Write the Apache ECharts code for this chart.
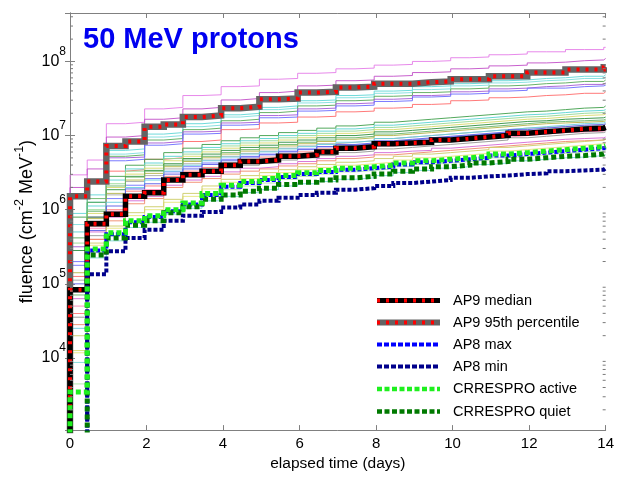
<!DOCTYPE html>
<html>
<head>
<meta charset="utf-8">
<script src="https://cdn.jsdelivr.net/npm/echarts@6.0.0/dist/echarts.min.js"></script>
<style>
html,body{margin:0;padding:0;background:#fff;}
#chart{width:617px;height:477px;}
</style>
</head>
<body>
<div id="chart"></div>
<script>
// ---- step times (days) at which each fluence value starts ----
const stepTimes = [0, 0.45, 0.95, 1.45, 1.95, 2.45, 2.95, 3.45, 3.95, 4.45, 4.95, 5.45, 5.95, 6.45, 6.95,
  7.45, 7.95, 8.45, 8.95, 9.45, 9.95, 10.45, 10.95, 11.45, 11.95, 12.45, 12.95, 13.45, 13.95];
const endTime = 14;

// ---- main curves, log10(fluence) ----
const ap9MedianLog = [4.92, 5.81, 5.94, 6.18, 6.23, 6.40, 6.47, 6.52, 6.60, 6.65, 6.67, 6.72, 6.74, 6.78, 6.83,
  6.85, 6.89, 6.90, 6.91, 6.94, 6.96, 6.98, 7.00, 7.03, 7.05, 7.07, 7.09, 7.10, 7.11];
const ap9P95Log = [6.18, 6.38, 6.86, 6.92, 7.12, 7.15, 7.25, 7.27, 7.37, 7.39, 7.49, 7.50, 7.58, 7.59, 7.65,
  7.66, 7.70, 7.70, 7.72, 7.73, 7.76, 7.76, 7.80, 7.80, 7.85, 7.85, 7.89, 7.89, 7.92];
const ap8MaxLog = [2.00, 5.45, 5.67, 5.83, 5.90, 5.98, 6.07, 6.20, 6.31, 6.36, 6.40, 6.44, 6.48, 6.51, 6.54,
  6.56, 6.58, 6.61, 6.64, 6.66, 6.68, 6.70, 6.73, 6.75, 6.77, 6.79, 6.81, 6.83, 6.84];
const ap8MinLog = [2.00, 5.13, 5.44, 5.62, 5.73, 5.85, 5.92, 5.97, 6.03, 6.07, 6.12, 6.16, 6.20, 6.23, 6.27,
  6.29, 6.32, 6.36, 6.38, 6.40, 6.43, 6.45, 6.46, 6.48, 6.49, 6.52, 6.53, 6.54, 6.56];
const crresActiveLog = [3.54, 5.47, 5.69, 5.85, 5.92, 6.00, 6.09, 6.22, 6.33, 6.38, 6.42, 6.46, 6.50, 6.53, 6.56,
  6.58, 6.60, 6.63, 6.66, 6.68, 6.70, 6.72, 6.75, 6.77, 6.79, 6.81, 6.83, 6.85, 6.86];
const crresQuietLog = [2.00, 5.39, 5.62, 5.79, 5.85, 5.96, 6.04, 6.14, 6.20, 6.25, 6.29, 6.34, 6.37, 6.40, 6.43,
  6.45, 6.48, 6.52, 6.55, 6.58, 6.60, 6.63, 6.65, 6.68, 6.70, 6.72, 6.73, 6.75, 6.76];

// ---- AP9 Monte-Carlo scenario curves (thin lines), log10(fluence) ----
const scenarioLogs = [
  [6.47, 6.67, 7.16, 7.18, 7.36, 7.38, 7.54, 7.55, 7.66, 7.67, 7.76, 7.77, 7.84, 7.85, 7.90, 7.91, 7.95, 7.96, 8.00, 8.01, 8.05, 8.06, 8.09, 8.10, 8.13, 8.13, 8.16, 8.16, 8.19],
  [6.30, 6.55, 6.98, 7.00, 7.22, 7.24, 7.36, 7.38, 7.48, 7.50, 7.58, 7.60, 7.67, 7.68, 7.74, 7.75, 7.80, 7.81, 7.85, 7.86, 7.90, 7.91, 7.94, 7.95, 7.98, 7.99, 8.01, 8.02, 8.04],
  [5.95, 6.20, 6.80, 6.82, 7.02, 7.04, 7.16, 7.18, 7.28, 7.30, 7.38, 7.40, 7.47, 7.48, 7.54, 7.55, 7.60, 7.61, 7.66, 7.67, 7.70, 7.71, 7.74, 7.75, 7.77, 7.78, 7.80, 7.80, 7.82],
  [5.80, 6.10, 6.75, 6.77, 6.98, 7.00, 7.12, 7.14, 7.25, 7.27, 7.35, 7.37, 7.44, 7.45, 7.51, 7.52, 7.57, 7.58, 7.62, 7.63, 7.67, 7.68, 7.71, 7.72, 7.74, 7.75, 7.77, 7.77, 7.79],
  [5.62, 5.98, 6.72, 6.74, 6.94, 6.96, 7.08, 7.10, 7.20, 7.22, 7.31, 7.33, 7.40, 7.41, 7.47, 7.48, 7.53, 7.54, 7.58, 7.59, 7.63, 7.64, 7.67, 7.68, 7.70, 7.71, 7.73, 7.73, 7.75],
  [5.50, 5.90, 6.70, 6.71, 6.90, 6.92, 7.05, 7.06, 7.17, 7.18, 7.27, 7.28, 7.36, 7.37, 7.43, 7.44, 7.49, 7.50, 7.54, 7.55, 7.59, 7.60, 7.63, 7.64, 7.66, 7.67, 7.69, 7.69, 7.71],
  [5.30, 5.80, 6.66, 6.68, 6.87, 6.89, 7.02, 7.03, 7.14, 7.15, 7.24, 7.25, 7.33, 7.34, 7.40, 7.41, 7.46, 7.47, 7.52, 7.53, 7.56, 7.57, 7.60, 7.61, 7.64, 7.64, 7.66, 7.67, 7.68],
  [5.10, 5.60, 6.52, 6.54, 6.68, 6.70, 6.92, 6.94, 7.08, 7.09, 7.17, 7.18, 7.25, 7.26, 7.32, 7.33, 7.37, 7.38, 7.42, 7.43, 7.47, 7.48, 7.51, 7.52, 7.54, 7.55, 7.57, 7.57, 7.59],
  [5.90, 6.10, 6.45, 6.60, 6.68, 6.77, 6.83, 6.88, 6.93, 6.97, 7.00, 7.04, 7.07, 7.10, 7.13, 7.15, 7.18, 7.20, 7.22, 7.24, 7.26, 7.28, 7.30, 7.32, 7.33, 7.35, 7.37, 7.38, 7.40],
  [5.70, 6.05, 6.40, 6.55, 6.63, 6.72, 6.78, 6.84, 6.89, 6.93, 6.96, 7.00, 7.03, 7.06, 7.09, 7.11, 7.14, 7.16, 7.18, 7.20, 7.22, 7.24, 7.26, 7.28, 7.29, 7.31, 7.33, 7.34, 7.35],
  [5.55, 6.00, 6.35, 6.52, 6.60, 6.69, 6.75, 6.81, 6.86, 6.90, 6.93, 6.97, 7.00, 7.03, 7.06, 7.08, 7.11, 7.13, 7.15, 7.17, 7.19, 7.21, 7.23, 7.25, 7.26, 7.28, 7.30, 7.31, 7.32],
  [4.10, 5.95, 6.30, 6.48, 6.56, 6.66, 6.72, 6.78, 6.83, 6.87, 6.90, 6.94, 6.97, 7.00, 7.03, 7.05, 7.08, 7.10, 7.12, 7.14, 7.16, 7.18, 7.20, 7.22, 7.23, 7.25, 7.27, 7.28, 7.29],
  [5.45, 5.90, 6.27, 6.45, 6.53, 6.62, 6.69, 6.75, 6.80, 6.84, 6.87, 6.91, 6.94, 6.97, 7.00, 7.02, 7.05, 7.07, 7.09, 7.11, 7.13, 7.15, 7.17, 7.19, 7.20, 7.22, 7.23, 7.24, 7.25],
  [5.05, 5.85, 6.20, 6.38, 6.46, 6.55, 6.62, 6.67, 6.72, 6.76, 6.79, 6.83, 6.86, 6.89, 6.91, 6.93, 6.96, 6.98, 7.00, 7.02, 7.04, 7.06, 7.08, 7.10, 7.11, 7.12, 7.13, 7.14, 7.15],
  [5.25, 5.80, 6.15, 6.33, 6.42, 6.51, 6.58, 6.63, 6.68, 6.72, 6.75, 6.79, 6.82, 6.85, 6.87, 6.89, 6.92, 6.94, 6.96, 6.98, 7.00, 7.02, 7.04, 7.05, 7.06, 7.07, 7.08, 7.09, 7.10],
  [4.60, 5.78, 6.00, 6.25, 6.32, 6.45, 6.52, 6.57, 6.63, 6.68, 6.71, 6.75, 6.78, 6.82, 6.85, 6.87, 6.90, 6.92, 6.93, 6.96, 6.98, 7.00, 7.02, 7.05, 7.07, 7.09, 7.10, 7.11, 7.12],
  [4.70, 5.75, 5.98, 6.20, 6.27, 6.42, 6.49, 6.54, 6.60, 6.64, 6.67, 6.71, 6.74, 6.78, 6.81, 6.83, 6.86, 6.88, 6.89, 6.92, 6.94, 6.96, 6.98, 7.00, 7.02, 7.04, 7.05, 7.06, 7.07],
  [4.80, 5.70, 5.90, 6.12, 6.18, 6.33, 6.40, 6.45, 6.51, 6.56, 6.58, 6.62, 6.65, 6.69, 6.72, 6.74, 6.77, 6.79, 6.80, 6.83, 6.85, 6.87, 6.89, 6.91, 6.93, 6.95, 6.96, 6.97, 6.98],
  [5.15, 5.88, 6.22, 6.40, 6.49, 6.58, 6.65, 6.70, 6.75, 6.79, 6.82, 6.86, 6.89, 6.92, 6.95, 6.97, 7.00, 7.02, 7.04, 7.06, 7.08, 7.10, 7.12, 7.14, 7.16, 7.17, 7.18, 7.19, 7.20],
  [4.40, 5.82, 6.10, 6.30, 6.40, 6.52, 6.60, 6.66, 6.71, 6.75, 6.78, 6.82, 6.85, 6.88, 6.91, 6.93, 6.96, 6.98, 7.00, 7.02, 7.04, 7.06, 7.08, 7.10, 7.12, 7.14, 7.16, 7.17, 7.18],
  [4.55, 5.65, 5.95, 6.16, 6.24, 6.38, 6.45, 6.50, 6.56, 6.60, 6.63, 6.67, 6.70, 6.73, 6.77, 6.79, 6.82, 6.84, 6.86, 6.88, 6.90, 6.92, 6.94, 6.97, 6.99, 7.01, 7.03, 7.04, 7.05],
  [5.00, 5.72, 6.05, 6.28, 6.35, 6.48, 6.55, 6.61, 6.66, 6.71, 6.74, 6.78, 6.81, 6.85, 6.88, 6.90, 6.93, 6.95, 6.97, 6.99, 7.01, 7.03, 7.05, 7.08, 7.10, 7.12, 7.14, 7.15, 7.16],
  [4.85, 6.15, 6.32, 6.44, 6.52, 6.60, 6.67, 6.72, 6.77, 6.81, 6.84, 6.88, 6.91, 6.94, 6.97, 6.99, 7.02, 7.04, 7.06, 7.08, 7.10, 7.12, 7.14, 7.16, 7.18, 7.19, 7.20, 7.21, 7.22],
  [4.45, 5.60, 5.85, 6.08, 6.15, 6.30, 6.37, 6.42, 6.48, 6.52, 6.55, 6.59, 6.62, 6.66, 6.69, 6.71, 6.74, 6.76, 6.78, 6.80, 6.82, 6.84, 6.86, 6.88, 6.90, 6.92, 6.93, 6.94, 6.95],
  [4.07, 5.52, 5.75, 5.92, 6.00, 6.10, 6.18, 6.28, 6.37, 6.42, 6.46, 6.50, 6.54, 6.57, 6.60, 6.62, 6.64, 6.67, 6.70, 6.72, 6.74, 6.76, 6.79, 6.81, 6.83, 6.85, 6.87, 6.89, 6.90],
  [3.94, 5.35, 5.58, 5.76, 5.83, 5.94, 6.02, 6.12, 6.18, 6.23, 6.27, 6.32, 6.35, 6.38, 6.41, 6.43, 6.46, 6.50, 6.53, 6.56, 6.58, 6.61, 6.63, 6.66, 6.68, 6.70, 6.71, 6.73, 6.74],
  [3.65, 5.42, 5.65, 5.82, 5.89, 5.99, 6.07, 6.18, 6.27, 6.32, 6.36, 6.41, 6.45, 6.48, 6.51, 6.53, 6.55, 6.58, 6.61, 6.63, 6.65, 6.67, 6.70, 6.72, 6.74, 6.76, 6.78, 6.79, 6.80],
  [4.30, 5.55, 5.78, 5.96, 6.04, 6.14, 6.22, 6.32, 6.41, 6.46, 6.50, 6.54, 6.58, 6.61, 6.64, 6.66, 6.69, 6.72, 6.75, 6.77, 6.79, 6.81, 6.84, 6.86, 6.88, 6.90, 6.92, 6.94, 6.95]
];
const scenarioColors = ['#e47ce8', '#c24fc8', '#5fd6d6', '#7ddede', '#58a858', '#a45ad4', '#6a6aff', '#ff6a6a',
  '#3f9f4a', '#58d2d2', '#94d894', '#d8d86a', '#2e8e3e', '#a8a8a8', '#7070ff', '#ff7878',
  '#ff86b6', '#d468d4', '#b4b448', '#68cce0', '#959595', '#5a5ae6', '#68b468', '#f08a68',
  '#e6e67a', '#7ad8d8', '#a8e4a8', '#cccc66'];

// ---- axis ticks ----
const yMin = 1065, yMax = 4.5e8;
const minorMultipliers = [2, 3, 4, 5, 6, 7, 8, 9];
const minorDecades = [1e3, 1e4, 1e5, 1e6, 1e7, 1e8];

const FONT = "'Liberation Sans', Arial, sans-serif";
const toStep = (logs, startLog) => {
  const d = [[0, Math.pow(10, startLog)]];
  logs.forEach((v, i) => d.push([stepTimes[i], Math.pow(10, v)]));
  d.push([endTime, Math.pow(10, logs[logs.length - 1])]);
  return d;
};

const series = [];
scenarioLogs.forEach((logs, k) => {
  series.push({
    type: 'line', step: 'end', showSymbol: false, silent: true, animation: false,
    data: toStep(logs, 2),
    lineStyle: { color: scenarioColors[k % scenarioColors.length], width: 1, opacity: 0.9 }
  });
});
function thick(name, logs, start, color, width, dash, z) {
  return {
    name, type: 'line', step: 'end', showSymbol: false, silent: true, animation: false,
    data: toStep(logs, start), z: z || 2,
    lineStyle: { color, width, type: dash || 'solid', cap: 'butt', join: 'miter' }
  };
}
series.push(thick('AP9 95th percentile', ap9P95Log, 2, '#646464', 6.5, 'solid', 3));
series.push(thick('AP9 95th percentile (red)', ap9P95Log, 2, '#ff0000', 4, [3, 6], 3));
series.push(thick('AP9 median', ap9MedianLog, 2, '#000000', 5.5, 'solid', 3));
series.push(thick('AP9 median (red)', ap9MedianLog, 2, '#ff0000', 4, [3, 6], 3));
series.push(thick('AP8 max', ap8MaxLog, 2, '#0000ff', 4, [4, 2], 3));
series.push(thick('AP8 min', ap8MinLog, 2, '#00008b', 4, [4, 2], 3));
series.push(thick('CRRESPRO quiet', crresQuietLog, 2, '#007a00', 5, [5, 3], 3));
series.push(thick('CRRESPRO active', crresActiveLog, 2, '#1ef01e', 5, [5, 3], 3));

const minorData = [];
minorDecades.forEach(d => minorMultipliers.forEach(m => {
  const v = d * m;
  if (v > yMin && v < yMax) minorData.push([0, v]);
}));
series.push({
  type: 'custom', silent: true, animation: false, z: 10,
  data: minorData,
  encode: { x: 0, y: 1 },
  renderItem: (params, api) => {
    const v = api.value(1);
    const pl = api.coord([0, v]);
    const pr = api.coord([endTime, v]);
    return {
      type: 'group', children: [
        { type: 'line', shape: { x1: pl[0], y1: pl[1], x2: pl[0] + 3, y2: pl[1] }, style: { stroke: '#7a7a7a', lineWidth: 1 } },
        { type: 'line', shape: { x1: pr[0] - 3, y1: pr[1], x2: pr[0], y2: pr[1] }, style: { stroke: '#7a7a7a', lineWidth: 1 } }
      ]
    };
  }
});

const expLabel = (val) => {
  const e = Math.log10(val);
  if (Math.abs(e - Math.round(e)) > 1e-6) return '';
  return '{b|10}{s|' + Math.round(e) + '}';
};

// ---- legend (drawn as graphics) ----
const legendNames = ['AP9 median', 'AP9 95th percentile', 'AP8 max', 'AP8 min', 'CRRESPRO active', 'CRRESPRO quiet'];
const legendRows = [300.5, 322.5, 344.5, 366.5, 389, 411.5];
const legendStrokes = [
  [['#000000', 5, null], ['#ff0000', 4, [3, 6]]],
  [['#646464', 6, null], ['#ff0000', 4, [3, 6]]],
  [['#0000ff', 4, [5, 2]]],
  [['#00008b', 4, [5, 2]]],
  [['#1ef01e', 4.5, [5, 2.5]]],
  [['#007a00', 4.5, [5, 2.5]]]
];
const graphic = [];
legendNames.forEach((name, i) => {
  const y = legendRows[i];
  legendStrokes[i].forEach(s => {
    graphic.push({
      type: 'line', silent: true, z: 100,
      shape: { x1: 377, y1: y, x2: 440, y2: y },
      style: { stroke: s[0], lineWidth: s[1], lineDash: s[2] || null, lineCap: 'butt' }
    });
  });
  graphic.push({
    type: 'text', silent: true, z: 100, x: 453, y: y,
    style: { text: name, fill: '#000', font: '14.5px ' + FONT, textAlign: 'left', textVerticalAlign: 'middle', verticalAlign: 'middle' }
  });
});

const axisGray = '#808080';
const option = {
  animation: false,
  backgroundColor: '#fff',
  title: {
    text: '50 MeV protons', left: 78, top: 20,
    textStyle: { color: '#0000f0', fontSize: 29, fontWeight: 'bold', fontFamily: FONT }
  },
  grid: { left: 70, right: 11, top: 13, bottom: 42, containLabel: false },
  xAxis: [
    {
      type: 'value', min: 0, max: 14, interval: 2, position: 'bottom',
      name: 'elapsed time (days)', nameLocation: 'middle', nameGap: 25,
      nameTextStyle: { fontSize: 15.5, fontFamily: FONT, color: '#000' },
      axisLine: { show: true, lineStyle: { color: axisGray, width: 1 } },
      axisTick: { show: true, inside: true, length: 5, lineStyle: { color: axisGray } },
      axisLabel: { fontSize: 15, fontFamily: FONT, color: '#000', margin: 6 },
      splitLine: { show: false }
    },
    {
      type: 'value', min: 0, max: 14, interval: 2, position: 'top',
      axisLine: { show: true, lineStyle: { color: axisGray, width: 1 } },
      axisTick: { show: true, inside: true, length: 5, lineStyle: { color: axisGray } },
      axisLabel: { show: false }, splitLine: { show: false }
    }
  ],
  yAxis: [
    {
      type: 'log', logBase: 10, min: yMin, max: yMax, position: 'left',
      name: '{n|fluence (cm}{s|-2}{n| MeV}{s|-1}{n|)}', nameLocation: 'middle', nameGap: 29, nameRotate: 90,
      nameMoveOverlap: false,
      nameTextStyle: {
        fontFamily: FONT, color: '#000',
        rich: {
          n: { fontSize: 18, fontFamily: FONT, color: '#000', lineHeight: 28 },
          s: { fontSize: 12.5, fontFamily: FONT, color: '#000', verticalAlign: 'top', lineHeight: 14 }
        }
      },
      axisLine: { show: true, lineStyle: { color: axisGray, width: 1 } },
      axisTick: { show: true, inside: true, length: 5, lineStyle: { color: axisGray } },
      axisLabel: {
        margin: 4, formatter: expLabel,
        rich: {
          b: { fontSize: 16, fontFamily: FONT, color: '#000', lineHeight: 32 },
          s: { fontSize: 12, fontFamily: FONT, color: '#000', verticalAlign: 'top', lineHeight: 14 }
        }
      },
      splitLine: { show: false }, minorTick: { show: false }
    },
    {
      type: 'log', logBase: 10, min: yMin, max: yMax, position: 'right',
      axisLine: { show: true, lineStyle: { color: axisGray, width: 1 } },
      axisTick: { show: true, inside: true, length: 5, lineStyle: { color: axisGray } },
      axisLabel: { show: false }, splitLine: { show: false }
    }
  ],
  series: series,
  graphic: graphic
};
const chart = echarts.init(document.getElementById('chart'), null, { renderer: 'canvas' });
chart.setOption(option);
</script>
</body>
</html>
